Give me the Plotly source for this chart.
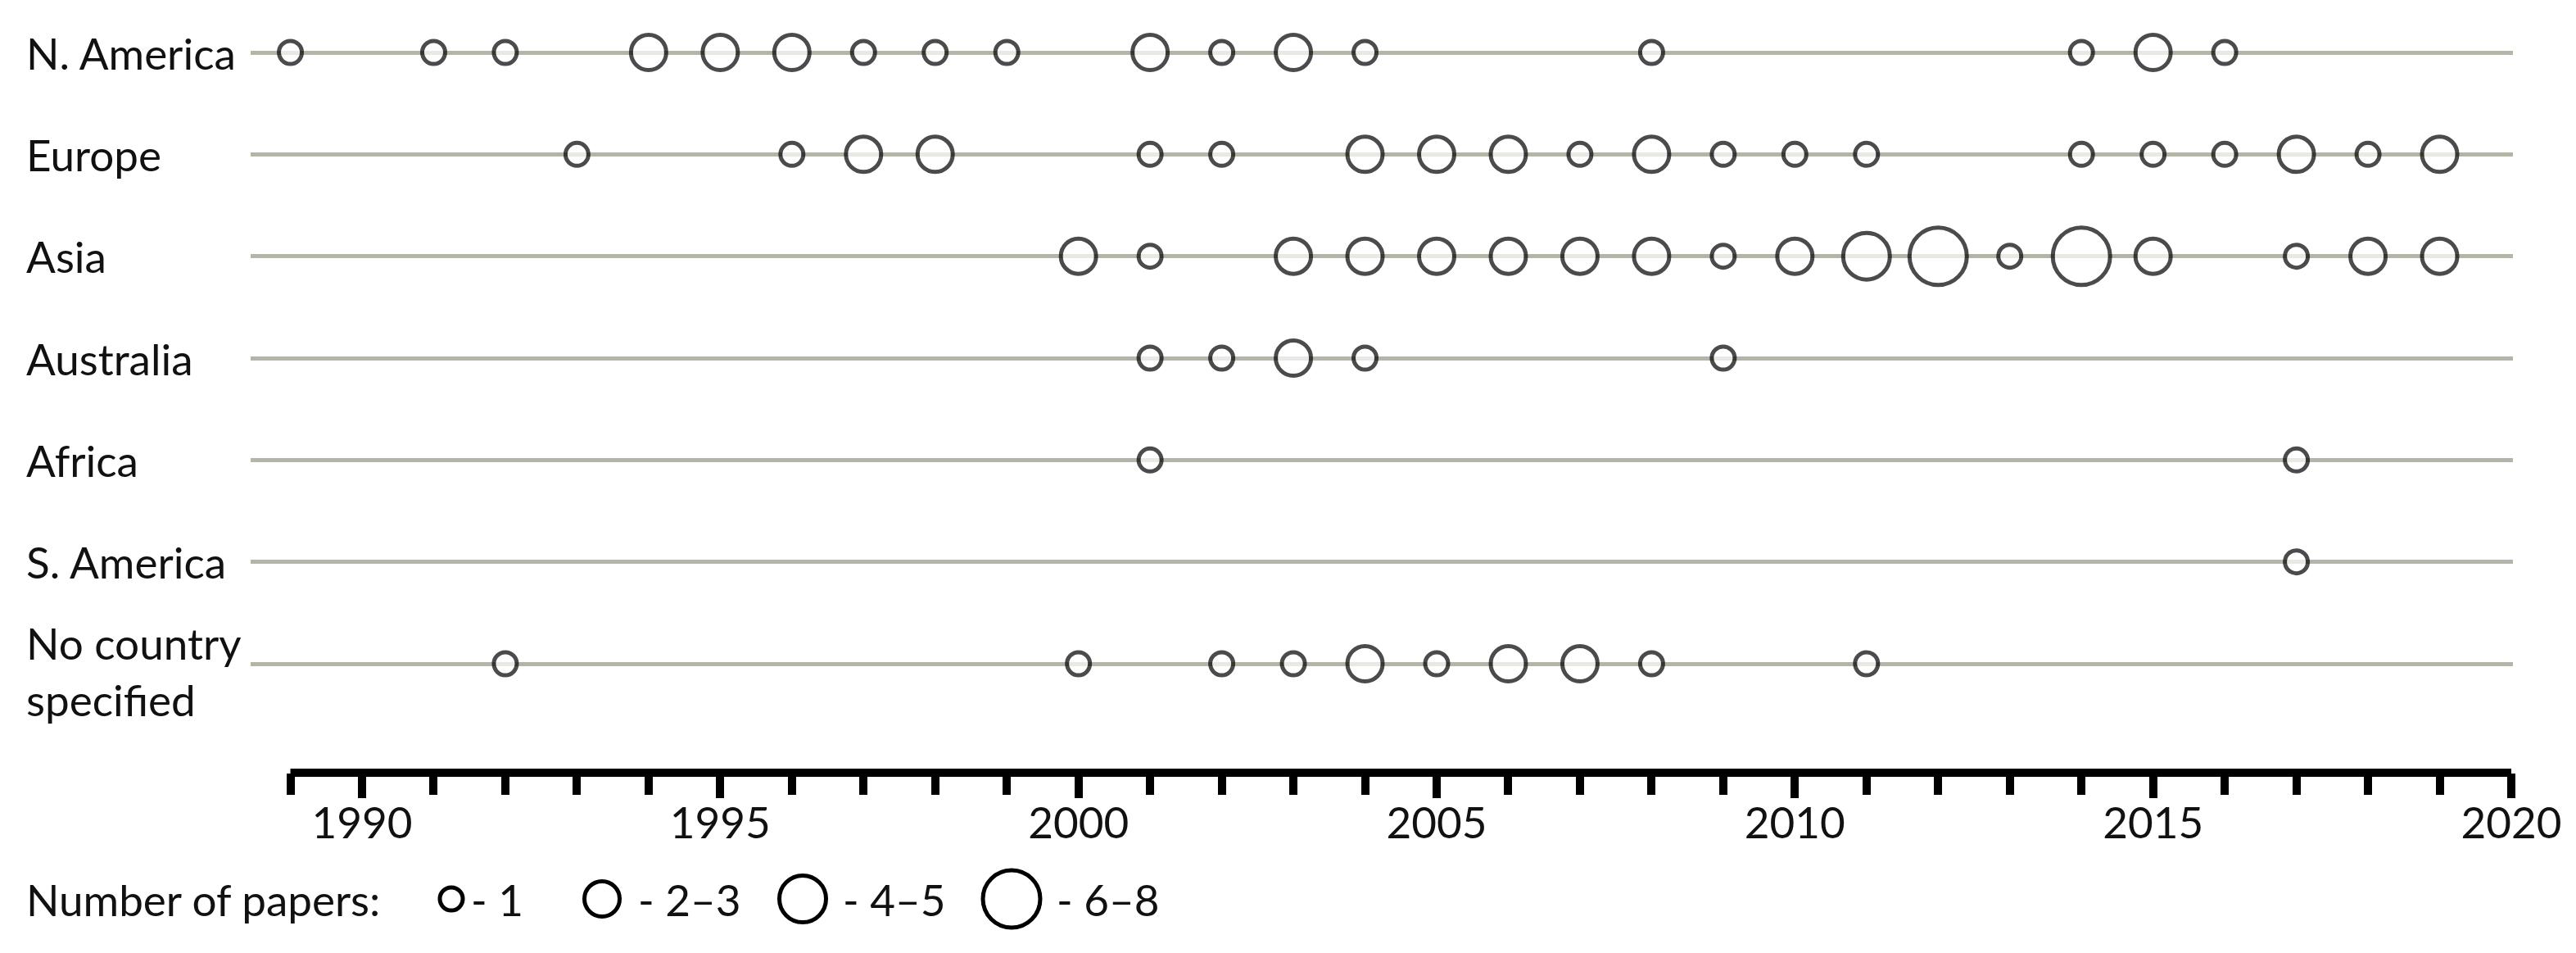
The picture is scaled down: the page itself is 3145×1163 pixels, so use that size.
import plotly.graph_objects as go

# rows, top to bottom
regions = ["N. America", "Europe", "Asia", "Australia", "Africa", "S. America", "No country specified"]
region_labels = ["N. America", "Europe", "Asia", "Australia", "Africa", "S. America", "No country<br>specified"]

# paper-count classes used in the legend
size_classes = ["1", "2–3", "4–5", "6–8"]

na_years = [1989, 1991, 1992, 1994, 1995, 1996, 1997, 1998, 1999, 2001, 2002, 2003, 2004, 2008, 2014, 2015, 2016]
na_class = ["1", "1", "1", "2–3", "2–3", "2–3", "1", "1", "1", "2–3", "1", "2–3", "1", "1", "1", "2–3", "1"]

eu_years = [1993, 1996, 1997, 1998, 2001, 2002, 2004, 2005, 2006, 2007, 2008, 2009, 2010, 2011, 2014, 2015, 2016, 2017, 2018, 2019]
eu_class = ["1", "1", "2–3", "2–3", "1", "1", "2–3", "2–3", "2–3", "1", "2–3", "1", "1", "1", "1", "1", "1", "2–3", "1", "2–3"]

as_years = [2000, 2001, 2003, 2004, 2005, 2006, 2007, 2008, 2009, 2010, 2011, 2012, 2013, 2014, 2015, 2017, 2018, 2019]
as_class = ["2–3", "1", "2–3", "2–3", "2–3", "2–3", "2–3", "2–3", "1", "2–3", "4–5", "6–8", "1", "6–8", "2–3", "1", "2–3", "2–3"]

au_years = [2001, 2002, 2003, 2004, 2009]
au_class = ["1", "1", "2–3", "1", "1"]

af_years = [2001, 2017]
af_class = ["1", "1"]

sa_years = [2017]
sa_class = ["1"]

nc_years = [1992, 2000, 2002, 2003, 2004, 2005, 2006, 2007, 2008, 2011]
nc_class = ["1", "1", "1", "1", "2–3", "1", "2–3", "2–3", "1", "1"]

series = [
    (na_years, na_class), (eu_years, eu_class), (as_years, as_class), (au_years, au_class),
    (af_years, af_class), (sa_years, sa_class), (nc_years, nc_class),
]

# styling
FONT = "Lato"
FS = 53
TXT = "#111111"
STROKE = 5
marker_px = {"1": 28, "2–3": 43, "4–5": 57, "6–8": 70}
GRAY = "#b4b4a8"

W, H = 3145, 1163
PLOT_L, PLOT_R, PLOT_T, PLOT_B = 306, 3068, 20, 943
px_per_year = (3066 - 442) / 30
x_range = [1990 - (442 - PLOT_L) / px_per_year, 2020 + (PLOT_R - 3066) / px_per_year]
row_px = (810 - 64) / 6
y_range = [6 + (PLOT_B - 810) / row_px, -(64 - PLOT_T) / row_px]


def px_x(p):
    return (p - PLOT_L) / (PLOT_R - PLOT_L)


def px_y(p):
    return (PLOT_B - p) / (PLOT_B - PLOT_T)


fig = go.Figure()

for region, (years, classes) in zip(regions, series):
    fig.add_trace(go.Scatter(
        x=years,
        y=[region] * len(years),
        mode="markers",
        marker=dict(
            size=[marker_px[c] for c in classes],
            color="white",
            line=dict(color="black", width=STROKE),
        ),
        cliponaxis=False,
        showlegend=False,
        hoverinfo="x+y",
    ))

# bottom timeline axis line
fig.add_shape(type="line", xref="x", yref="paper", x0=1989, x1=2020, y0=0, y1=0,
              line=dict(color="black", width=10))

# row labels, left aligned
annotations = []
for i, lab in enumerate(region_labels):
    annotations.append(dict(x=px_x(30), xref="paper", y=i, yref="y", text=lab,
                            xanchor="left", yanchor="middle", align="left", showarrow=False,
                            yshift=-9 if "<br>" in lab else 0))

# legend row
LEG_Y = 1097
annotations.append(dict(x=px_x(30), xref="paper", y=px_y(LEG_Y), yref="paper", text="Number of papers:",
                        xanchor="left", yanchor="middle", showarrow=False))
leg_cx = [551, 735, 980, 1235]
leg_tx = [573, 777, 1027, 1288]
for cls, cx, tx in zip(size_classes, leg_cx, leg_tx):
    r = marker_px[cls] / 2
    fig.add_shape(type="circle", xref="paper", yref="paper", xsizemode="pixel", ysizemode="pixel",
                  xanchor=px_x(cx), yanchor=px_y(LEG_Y), x0=-r, x1=r, y0=-r, y1=r,
                  line=dict(color="black", width=STROKE), fillcolor="white")
    annotations.append(dict(x=px_x(tx), xref="paper", y=px_y(LEG_Y), yref="paper", text="- " + cls,
                            xanchor="left", yanchor="middle", showarrow=False))

fig.update_layout(
    width=W, height=H,
    margin=dict(l=PLOT_L, r=W - PLOT_R, t=PLOT_T, b=H - PLOT_B, pad=0),
    paper_bgcolor="white", plot_bgcolor="white",
    font=dict(family=FONT, size=FS, color=TXT),
    annotations=annotations,
    xaxis=dict(
        range=x_range, showgrid=False, zeroline=False, showline=False,
        tick0=1990, dtick=5, ticks="outside", ticklen=30, tickwidth=10, tickcolor="black",
        ticklabelstandoff=-15,
        tickfont=dict(family=FONT, size=FS, color=TXT),
        minor=dict(tick0=1989, dtick=1, ticks="outside", ticklen=26, tickwidth=10, tickcolor="black"),
    ),
    yaxis=dict(
        type="category", categoryarray=regions, range=y_range,
        showgrid=True, gridcolor=GRAY, gridwidth=5, zeroline=False,
        showticklabels=False, ticks="", showline=False,
    ),
)

fig.write_html("out.html", config={"displayModeBar": False},
               post_script="document.body.style.margin = '0px';")
